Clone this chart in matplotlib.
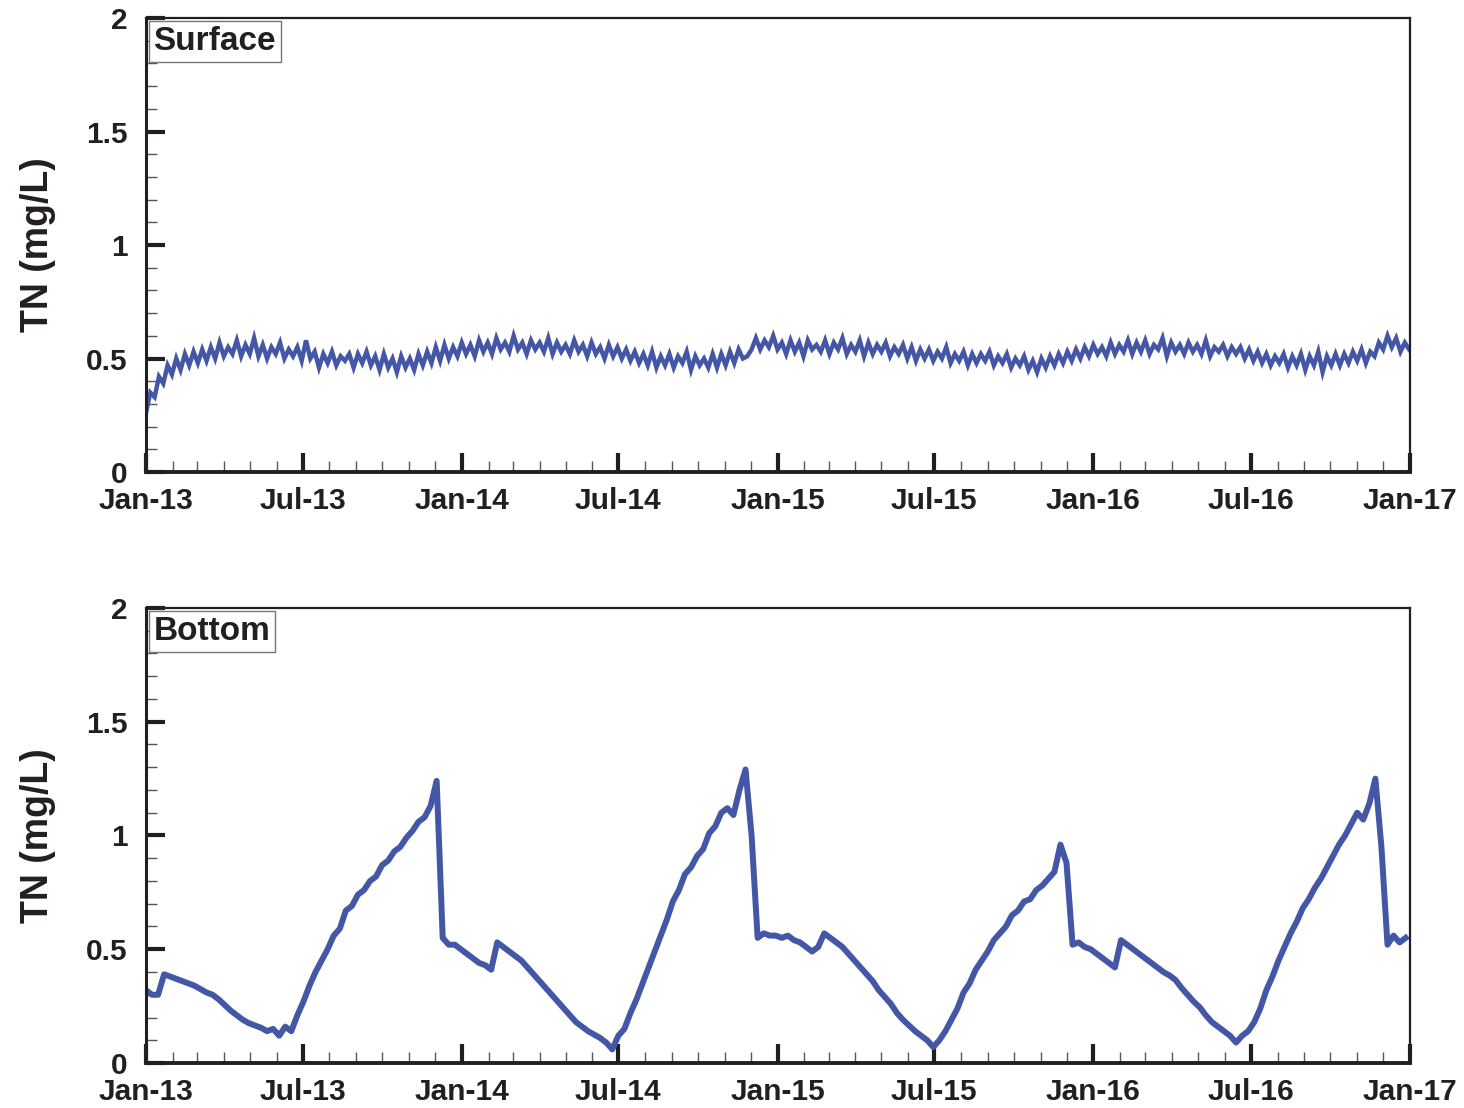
import matplotlib
matplotlib.use("Agg")
import matplotlib.pyplot as plt
import matplotlib.dates as mdates
from matplotlib.ticker import MultipleLocator, FixedLocator, FixedFormatter
import pandas as pd

# Total nitrogen, surface layer, sampled every 5 days from 1 Jan 2013
tn_surface = [
    0.26, 0.35, 0.33, 0.42, 0.39, 0.47, 0.43, 0.50, 0.45, 0.52, 0.47, 0.53,
    0.48, 0.54, 0.49, 0.55, 0.50, 0.57, 0.51, 0.55, 0.52, 0.58, 0.51, 0.56,
    0.52, 0.59, 0.51, 0.56, 0.50, 0.55, 0.52, 0.57, 0.50, 0.54, 0.51, 0.55,
    0.49, 0.58, 0.50, 0.53, 0.46, 0.52, 0.48, 0.53, 0.47, 0.51, 0.49, 0.52,
    0.46, 0.52, 0.48, 0.53, 0.47, 0.51, 0.45, 0.52, 0.46, 0.50, 0.44, 0.51,
    0.46, 0.50, 0.45, 0.52, 0.47, 0.53, 0.48, 0.55, 0.49, 0.56, 0.50, 0.55,
    0.51, 0.57, 0.52, 0.56, 0.51, 0.58, 0.53, 0.57, 0.52, 0.59, 0.54, 0.57,
    0.53, 0.60, 0.54, 0.57, 0.52, 0.58, 0.54, 0.57, 0.53, 0.59, 0.52, 0.57,
    0.53, 0.56, 0.52, 0.58, 0.53, 0.56, 0.51, 0.57, 0.52, 0.55, 0.50, 0.56,
    0.51, 0.55, 0.50, 0.54, 0.49, 0.53, 0.48, 0.52, 0.47, 0.53, 0.46, 0.51,
    0.47, 0.52, 0.46, 0.51, 0.48, 0.53, 0.45, 0.51, 0.47, 0.50, 0.46, 0.52,
    0.46, 0.52, 0.47, 0.53, 0.48, 0.54, 0.50, 0.51, 0.54, 0.59, 0.54, 0.58,
    0.55, 0.60, 0.54, 0.57, 0.52, 0.58, 0.53, 0.57, 0.51, 0.58, 0.54, 0.56,
    0.53, 0.58, 0.52, 0.57, 0.54, 0.59, 0.52, 0.56, 0.53, 0.58, 0.51, 0.57,
    0.52, 0.56, 0.53, 0.57, 0.51, 0.55, 0.52, 0.56, 0.50, 0.55, 0.49, 0.54,
    0.50, 0.54, 0.49, 0.53, 0.50, 0.55, 0.48, 0.52, 0.49, 0.53, 0.47, 0.52,
    0.48, 0.52, 0.49, 0.53, 0.47, 0.51, 0.48, 0.52, 0.46, 0.50, 0.47, 0.51,
    0.45, 0.49, 0.44, 0.50, 0.46, 0.51, 0.47, 0.52, 0.48, 0.53, 0.49, 0.54,
    0.50, 0.55, 0.51, 0.56, 0.52, 0.55, 0.51, 0.57, 0.52, 0.56, 0.53, 0.58,
    0.52, 0.57, 0.53, 0.58, 0.52, 0.56, 0.54, 0.59, 0.51, 0.57, 0.53, 0.56,
    0.52, 0.57, 0.53, 0.56, 0.52, 0.58, 0.51, 0.55, 0.53, 0.56, 0.51, 0.55,
    0.52, 0.55, 0.50, 0.54, 0.49, 0.53, 0.48, 0.52, 0.47, 0.51, 0.48, 0.52,
    0.46, 0.51, 0.47, 0.52, 0.45, 0.51, 0.47, 0.53, 0.44, 0.51, 0.47, 0.52,
    0.47, 0.52, 0.48, 0.53, 0.49, 0.54, 0.48, 0.53, 0.51, 0.57, 0.54, 0.60,
    0.55, 0.59, 0.53, 0.57, 0.54,
]

# Total nitrogen, bottom layer, sampled weekly from 1 Jan 2013
tn_bottom = [
    0.32, 0.30, 0.30, 0.39, 0.38, 0.37, 0.36, 0.35, 0.34, 0.325,
    0.31, 0.30, 0.28, 0.255, 0.23, 0.21, 0.19, 0.175, 0.165, 0.155,
    0.14, 0.15, 0.12, 0.16, 0.14, 0.21, 0.27, 0.34, 0.40, 0.45,
    0.50, 0.56, 0.59, 0.67, 0.69, 0.74, 0.76, 0.80, 0.82, 0.87,
    0.89, 0.93, 0.95, 0.99, 1.02, 1.06, 1.08, 1.13, 1.24, 0.55,
    0.52, 0.52, 0.50, 0.48, 0.46, 0.44, 0.43, 0.41, 0.53, 0.51,
    0.49, 0.47, 0.45, 0.42, 0.39, 0.36, 0.33, 0.30, 0.27, 0.24,
    0.21, 0.18, 0.16, 0.14, 0.125, 0.11, 0.09, 0.06, 0.12, 0.15,
    0.22, 0.28, 0.35, 0.42, 0.49, 0.56, 0.63, 0.71, 0.76, 0.83,
    0.86, 0.91, 0.94, 1.01, 1.04, 1.10, 1.12, 1.09, 1.20, 1.29,
    1.00, 0.55, 0.57, 0.56, 0.56, 0.55, 0.56, 0.54, 0.53, 0.51,
    0.49, 0.51, 0.57, 0.55, 0.53, 0.51, 0.48, 0.45, 0.42, 0.39,
    0.36, 0.32, 0.29, 0.26, 0.22, 0.19, 0.165, 0.14, 0.12, 0.10,
    0.07, 0.10, 0.14, 0.19, 0.24, 0.31, 0.35, 0.41, 0.45, 0.49,
    0.54, 0.57, 0.60, 0.65, 0.67, 0.71, 0.72, 0.76, 0.78, 0.81,
    0.84, 0.96, 0.88, 0.52, 0.53, 0.51, 0.50, 0.48, 0.46, 0.44,
    0.42, 0.54, 0.52, 0.50, 0.48, 0.46, 0.44, 0.42, 0.40, 0.385,
    0.365, 0.33, 0.30, 0.27, 0.245, 0.21, 0.18, 0.16, 0.14, 0.12,
    0.09, 0.12, 0.14, 0.18, 0.24, 0.32, 0.38, 0.45, 0.51, 0.57,
    0.62, 0.68, 0.72, 0.77, 0.81, 0.86, 0.91, 0.96, 1.00, 1.05,
    1.10, 1.07, 1.14, 1.25, 0.95, 0.52, 0.56, 0.53, 0.55,
]

panel_names = ["Surface", "Bottom"]
y_tick_values = [0, 0.5, 1, 1.5, 2]
y_tick_labels = ["0", "0.5", "1", "1.5", "2"]

dates_surface = pd.date_range("2013-01-01", periods=len(tn_surface), freq="5D")
dates_bottom = pd.date_range("2013-01-01", periods=len(tn_bottom), freq="7D")

plt.rcParams["font.family"] = ["Liberation Sans", "DejaVu Sans"]
plt.rcParams["font.weight"] = "bold"

ink = "#231f20"
blue = "#4457a6"

fig = plt.figure(figsize=(14.64, 11.08), dpi=100)
ax_top = fig.add_axes([0.0997, 0.574, 0.8634, 0.4097])
ax_bot = fig.add_axes([0.0997, 0.0406, 0.8634, 0.4107])

ax_top.plot(dates_surface, tn_surface, color=blue, lw=3.2, solid_joinstyle="miter")
ax_bot.plot(dates_bottom, tn_bottom, color=blue, lw=4.3)

for ax, name in zip([ax_top, ax_bot], panel_names):
    ax.set_xlim(pd.Timestamp("2013-01-01"), pd.Timestamp("2017-01-01"))
    ax.set_ylim(0, 2)

    ax.xaxis.set_major_locator(mdates.MonthLocator(bymonth=[1, 7]))
    ax.xaxis.set_minor_locator(mdates.MonthLocator())
    ax.xaxis.set_major_formatter(mdates.DateFormatter("%b-%y"))
    ax.yaxis.set_major_locator(FixedLocator(y_tick_values))
    ax.yaxis.set_major_formatter(FixedFormatter(y_tick_labels))
    ax.yaxis.set_minor_locator(MultipleLocator(0.1))

    ax.tick_params(axis="both", which="major", direction="in", length=14,
                   width=3, color=ink, labelsize=21.5, labelcolor=ink)
    ax.tick_params(axis="both", which="minor", direction="in", length=8,
                   width=1, color="#555555")
    ax.tick_params(axis="x", which="both", top=False, pad=11)
    ax.tick_params(axis="y", which="both", right=False, pad=13)

    for lab in ax.get_xticklabels() + ax.get_yticklabels():
        lab.set_fontweight("bold")

    ax.spines["left"].set_linewidth(2.2)
    ax.spines["bottom"].set_linewidth(2.8)
    ax.spines["top"].set_linewidth(1.6)
    ax.spines["right"].set_linewidth(1.6)
    for sp in ax.spines.values():
        sp.set_color(ink)

    ax.set_ylabel("TN (mg/L)", fontsize=27, fontweight="bold", color=ink, labelpad=22)

    ax.text(0.006, 0.982, name, transform=ax.transAxes, ha="left", va="top",
            fontsize=24, fontweight="bold", color=ink,
            bbox=dict(boxstyle="square,pad=0.15", facecolor="white",
                      edgecolor="#777777", linewidth=1.0))

fig.savefig("out.png", dpi=100)
